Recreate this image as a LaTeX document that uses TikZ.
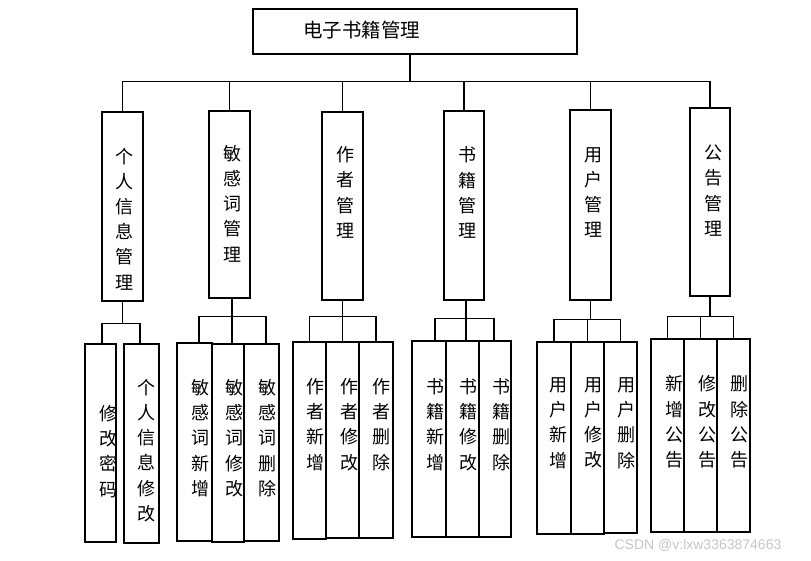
\documentclass[tikz,border=0pt]{standalone}
\usepackage{fontspec}
\newfontfamily\cjk{Noto Sans CJK SC}
\newfontfamily\wmfont{Liberation Sans}
\usepackage{tikz}

\tikzset{
  box/.style={draw, line width=1.1pt, inner sep=0pt},
  vt/.style={align=center, inner sep=0pt, font=\cjk\fontsize{18}{25.2}\selectfont},
  link/.style={line width=1.1pt}
}

\begin{document}
\begin{tikzpicture}[x=1pt,y=-1pt]
\useasboundingbox (0,0) rectangle (811,561);
% top
\node[box, minimum width=324, minimum height=45] (root) at (415,31.5) {};
\node[font=\cjk\fontsize{19.5}{20}\selectfont, inner sep=0pt] (title) at (361.5,30) {电子书籍管理};
% first level
\node[box, minimum width=41, minimum height=189] (p1) at (122.5,206.5) {};
\node[box, minimum width=41, minimum height=187] (p2) at (229.5,204.5) {};
\node[box, minimum width=41, minimum height=188] (p3) at (342.5,206) {};
\node[box, minimum width=40, minimum height=189] (p4) at (464,205.5) {};
\node[box, minimum width=41, minimum height=190] (p5) at (590.5,205) {};
\node[box, minimum width=40, minimum height=188] (p6) at (710,202) {};
\node[vt] (tp1) at (124,219) {个\\人\\信\\息\\管\\理};
\node[vt] (tp2) at (232,203.5) {敏\\感\\词\\管\\理};
\node[vt] (tp3) at (345,192.5) {作\\者\\管\\理};
\node[vt] (tp4) at (467,192.5) {书\\籍\\管\\理};
\node[vt] (tp5) at (593,192.5) {用\\户\\管\\理};
\node[vt] (tp6) at (713,190.5) {公\\告\\管\\理};
% second level
\node[box, minimum width=31, minimum height=198] (a1) at (100.5,443) {};
\node[box, minimum width=35, minimum height=199] (a2) at (141.5,443.5) {};
\node[box, minimum width=35, minimum height=198] (b1) at (194.5,442) {};
\node[box, minimum width=32, minimum height=198] (b2) at (228,443) {};
\node[box, minimum width=35, minimum height=197] (b3) at (261.5,442.5) {};
\node[box, minimum width=33, minimum height=197] (c1) at (309.5,440.5) {};
\node[box, minimum width=33, minimum height=196] (c2) at (342.5,440) {};
\node[box, minimum width=34, minimum height=196] (c3) at (376,440) {};
\node[box, minimum width=34, minimum height=196] (d1) at (429,439) {};
\node[box, minimum width=33, minimum height=196] (d2) at (462.5,439) {};
\node[box, minimum width=32, minimum height=196] (d3) at (495,439) {};
\node[box, minimum width=34, minimum height=192] (e1) at (554,438) {};
\node[box, minimum width=33, minimum height=192] (e2) at (587.5,438) {};
\node[box, minimum width=33, minimum height=191] (e3) at (620.5,437.5) {};
\node[box, minimum width=33, minimum height=193] (f1) at (667.5,435.5) {};
\node[box, minimum width=33, minimum height=193] (f2) at (700.5,435.5) {};
\node[box, minimum width=33, minimum height=193] (f3) at (733.5,435.5) {};
\node[vt] (ta1) at (108,451.5) {修\\改\\密\\码};
\node[vt] (ta2) at (146,450.5) {个\\人\\信\\息\\修\\改};
\node[vt] (tb1) at (200,438) {敏\\感\\词\\新\\增};
\node[vt] (tb2) at (234,438) {敏\\感\\词\\修\\改};
\node[vt] (tb3) at (267,438) {敏\\感\\词\\删\\除};
\node[vt] (tc1) at (315,424.5) {作\\者\\新\\增};
\node[vt] (tc2) at (349,424.5) {作\\者\\修\\改};
\node[vt] (tc3) at (381,424.5) {作\\者\\删\\除};
\node[vt] (td1) at (435,424.5) {书\\籍\\新\\增};
\node[vt] (td2) at (468,424.5) {书\\籍\\修\\改};
\node[vt] (td3) at (501,424.5) {书\\籍\\删\\除};
\node[vt] (te1) at (558,423) {用\\户\\新\\增};
\node[vt] (te2) at (593,423) {用\\户\\修\\改};
\node[vt] (te3) at (626,423) {用\\户\\删\\除};
\node[vt] (tf1) at (674,422) {新\\增\\公\\告};
\node[vt] (tf2) at (707,422) {修\\改\\公\\告};
\node[vt] (tf3) at (739,422) {删\\除\\公\\告};
% junctions
\path (root.south) ++(-5,27) coordinate (bus);
\path (p1.south) ++(0,22) coordinate (j1);
\path (p2.south) ++(2.5,18) coordinate (j2);
\path (p3.south) ++(0,16) coordinate (j3);
\path (p4.south) ++(2,18) coordinate (j4);
\path (p5.south) ++(0,19) coordinate (j5);
\path (p6.south) ++(0,20) coordinate (j6);
% connectors
\draw[link] (root.south -| bus) -- (bus);
\draw[link] (p1.north) |- (bus) (p2.north) |- (bus) (p3.north) |- (bus)
  (p4.north) |- (bus) (p5.north) |- (bus) (p6.north) |- (bus);
\draw[link] (p1.south) -- (j1) ([xshift=1.5]a1.north) |- (j1) ([xshift=-1.5]a2.north) |- (j1);
\draw[link] (p2.south -| j2) -- (j2) ([xshift=4.5]b1.north) |- (j2) ([xshift=4]b2.north) |- (j2) ([xshift=4.5]b3.north) |- (j2);
\draw[link] (p3.south) -- (j3) (c1.north) |- (j3) (c2.north) |- (j3) (c3.north) |- (j3);
\draw[link] (p4.south -| j4) -- (j4) ([xshift=6]d1.north) |- (j4) ([xshift=3.5]d2.north) |- (j4) ([xshift=-1]d3.north) |- (j4);
\draw[link] (p5.south) -- (j5) (e1.north) |- (j5) (e2.north) |- (j5) (e3.north) |- (j5);
\draw[link] (p6.south) -- (j6) (f1.north) |- (j6) (f2.north) |- (j6) (f3.north) |- (j6);
% watermark
\node[text=gray!45, font=\wmfont\fontsize{14}{16}\selectfont, inner sep=0pt] (wm) at (698,545) {CSDN @v:lxw3363874663};
\end{tikzpicture}
\end{document}
